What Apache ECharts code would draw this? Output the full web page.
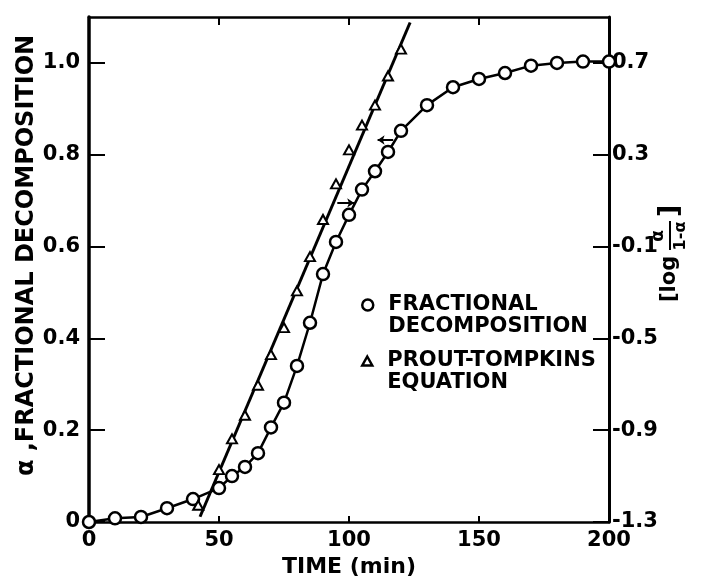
<!DOCTYPE html>
<html>
<head>
<meta charset="utf-8">
<script src="https://cdn.jsdelivr.net/npm/echarts@6/dist/echarts.min.js"></script>
<style>html,body{margin:0;padding:0;background:#fff;}#c{width:707px;height:583px;}</style>
</head>
<body>
<div id="c"></div>
<script>
// ---- data ----
const timeMin = [0,10,20,30,40,50,55,60,65,70,75,80,85,90,95,100,105,110,115,120,130,140,150,160,170,180,190,200];
const fractionalDecomposition = [0,0.008,0.011,0.03,0.05,0.074,0.10,0.12,0.15,0.206,0.26,0.34,0.434,0.54,0.61,0.669,0.724,0.764,0.806,0.852,0.908,0.947,0.965,0.978,0.994,1.0,1.003,1.003];
const proutTimes = [42,50,55,60,65,70,75,80,85,90,95,100,105,110,115,120];
const proutLogValues = [-1.227,-1.072,-0.938,-0.835,-0.704,-0.571,-0.453,-0.293,-0.144,0.018,0.173,0.321,0.429,0.516,0.643,0.76];
const fitTimes = [42.7, 123.5];
const fitLogValues = [-1.277, 0.876];
const arrowLeftAxis = [[117, 0.832], [111, 0.832]];
const arrowRightAxis = [[95.5, 0.09], [102, 0.09]];
const xTicks = [0, 200, 50];
const yLeftTicks = [0, 1.1, 0.2];
const yRightTicks = [-1.3, 0.9, 0.4];
const seriesNames = ['FRACTIONAL\nDECOMPOSITION', 'PROUT-TOMPKINS\nEQUATION'];

const FONT = 'DejaVu Sans';
const zip = (a, b) => a.map((v, i) => [v, b[i]]);

const chart = echarts.init(document.getElementById('c'), null, {renderer: 'canvas'});
const lblStyle = {color: '#000', fontFamily: FONT, fontWeight: 'bold', fontSize: 21};
const legendText = {color: '#000', fontFamily: FONT, fontWeight: 'bold', fontSize: 21, lineHeight: 22, padding: [0, 0, 0, 10]};

chart.setOption({
  animation: false,
  backgroundColor: '#fff',
  grid: {left: 89, right: 98, top: 17, bottom: 56, containLabel: false},
  legend: [
    {data: [{name: seriesNames[0], icon: 'circle'}], left: 361, top: 272, padding: 0, orient: 'vertical',
     itemWidth: 11, itemHeight: 11, selectedMode: false, textStyle: legendText, formatter: n => ' \n' + n,
     itemStyle: {color: '#fff', borderColor: '#000', borderWidth: 2.5, opacity: 1}},
    {data: [{name: seriesNames[1], icon: 'triangle'}], left: 361, top: 328, padding: 0, orient: 'vertical',
     itemWidth: 10, itemHeight: 9, selectedMode: false, textStyle: legendText, formatter: n => ' \n' + n,
     itemStyle: {color: '#fff', borderColor: '#000', borderWidth: 2.5, opacity: 1}}
  ],
  xAxis: [
    {type: 'value', position: 'bottom', min: xTicks[0], max: xTicks[1], interval: xTicks[2],
     axisLine: {onZero: false, lineStyle: {color: '#000', width: 2.5}},
     axisTick: {inside: true, length: 6, lineStyle: {color: '#000', width: 2}},
     axisLabel: Object.assign({margin: 8}, lblStyle),
     splitLine: {show: false},
     name: 'TIME (min)', nameLocation: 'middle', nameGap: 34,
     nameTextStyle: {color: '#000', fontFamily: FONT, fontWeight: 'bold', fontSize: 22}},
    {type: 'value', position: 'top', min: xTicks[0], max: xTicks[1], interval: xTicks[2],
     axisLine: {onZero: false, lineStyle: {color: '#000', width: 2.5}},
     axisTick: {inside: true, length: 8, lineStyle: {color: '#000', width: 2}},
     axisLabel: {show: false}, splitLine: {show: false}}
  ],
  yAxis: [
    {type: 'value', position: 'left', min: yLeftTicks[0], max: yLeftTicks[1], interval: yLeftTicks[2],
     axisLine: {show: true, onZero: false, lineStyle: {color: '#000', width: 3.5}},
     axisTick: {show: true, inside: true, length: 16, lineStyle: {color: '#000', width: 2}},
     axisLabel: Object.assign({margin: 9, showMaxLabel: false, formatter: v => v === 0 ? '0' : v.toFixed(1)}, lblStyle),
     splitLine: {show: false},
     name: 'α ,FRACTIONAL DECOMPOSITION', nameLocation: 'middle', nameGap: 50, nameRotate: 90, nameMoveOverlap: false,
     nameTextStyle: {color: '#000', fontFamily: FONT, fontWeight: 'bold', fontSize: 24, padding: [0, 0, 0, 28]}},
    {type: 'value', position: 'right', min: yRightTicks[0], max: yRightTicks[1], interval: yRightTicks[2],
     axisLine: {show: true, onZero: false, lineStyle: {color: '#000', width: 3}},
     axisTick: {show: true, inside: true, length: 16, lineStyle: {color: '#000', width: 2}},
     axisLabel: Object.assign({margin: 3, showMaxLabel: false, formatter: v => v.toFixed(1)}, lblStyle),
     splitLine: {show: false}}
  ],
  graphic: [{
    type: 'group', x: 670, y: 302, rotation: Math.PI / 2,
    children: [
      {type: 'text', x: 0, y: 0, style: {text: '[log', font: 'bold 21px "DejaVu Sans"', fill: '#000', verticalAlign: 'middle', align: 'left'}},
      {type: 'text', x: 66, y: -11, style: {text: 'α', font: 'bold 17px "DejaVu Sans"', fill: '#000', verticalAlign: 'middle', align: 'center'}},
      {type: 'line', shape: {x1: 52, y1: 0, x2: 81, y2: 0}, style: {stroke: '#000', lineWidth: 2}},
      {type: 'text', x: 66, y: 11, style: {text: '1-α', font: 'bold 16px "DejaVu Sans"', fill: '#000', verticalAlign: 'middle', align: 'center'}},
      {type: 'text', x: 85, y: 0, style: {text: ']', font: 'bold 27px "DejaVu Sans"', fill: '#000', verticalAlign: 'middle', align: 'left'}}
    ]
  }],
  series: [
    {name: seriesNames[0], type: 'line', xAxisIndex: 0, yAxisIndex: 0, data: zip(timeMin, fractionalDecomposition),
     symbol: 'circle', symbolSize: 12, showAllSymbol: true,
     itemStyle: {color: '#fff', borderColor: '#000', borderWidth: 2.5},
     lineStyle: {color: '#000', width: 2.5}, z: 3,
     markLine: {silent: true, symbol: ['none', 'arrow'], symbolSize: 7, label: {show: false},
       lineStyle: {color: '#000', width: 2, type: 'solid'},
       data: [[{coord: arrowLeftAxis[0]}, {coord: arrowLeftAxis[1]}]]}},
    {name: 'fit', type: 'line', xAxisIndex: 0, yAxisIndex: 1, data: zip(fitTimes, fitLogValues),
     symbol: 'none', lineStyle: {color: '#000', width: 3}, z: 2,
     markLine: {silent: true, symbol: ['none', 'arrow'], symbolSize: 7, label: {show: false},
       lineStyle: {color: '#000', width: 2, type: 'solid'},
       data: [[{coord: arrowRightAxis[0]}, {coord: arrowRightAxis[1]}]]}},
    {name: seriesNames[1], type: 'scatter', xAxisIndex: 0, yAxisIndex: 1, data: zip(proutTimes, proutLogValues),
     symbol: 'triangle', symbolSize: [10, 9],
     itemStyle: {color: '#fff', borderColor: '#000', borderWidth: 2, opacity: 1}, z: 4}
  ]
});
</script>
</body>
</html>
